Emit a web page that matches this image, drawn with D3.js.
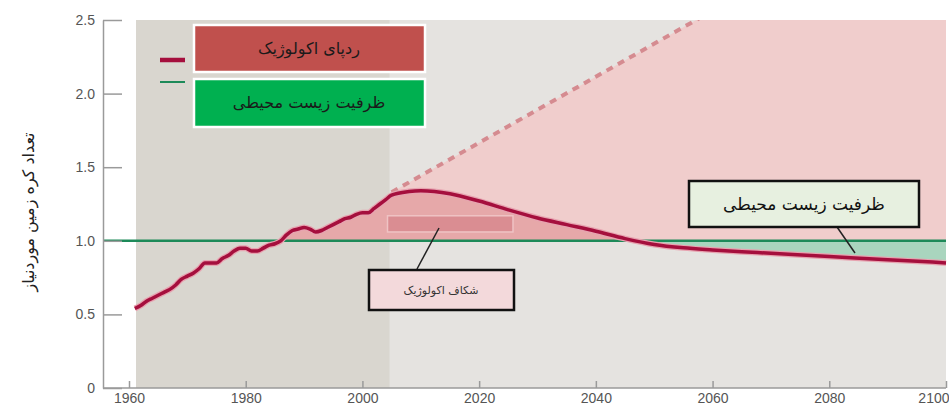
<!DOCTYPE html>
<html>
<head>
<meta charset="utf-8">
<script src="https://cdn.jsdelivr.net/npm/d3@7"></script>
<style>
body { margin: 0; background: #fff; }
svg { display: block; }
.fa { font-family: "DejaVu Sans", sans-serif; direction: rtl; }
.axis text { font-family: "Liberation Sans", Arial, sans-serif; font-size: 14px; fill: #555; }
.axis path, .axis line { stroke: #9a9a9a; stroke-width: 1.5; }
</style>
</head>
<body>
<script>
var width = 949, height = 408;

// ecological footprint, number of planets (historical, yearly)
var histYears = [1961,1962,1963,1964,1965,1966,1967,1968,1969,1970,1971,1972,1973,1974,1975,1976,1977,1978,1979,1980,
  1981,1982,1983,1984,1985,1986,1987,1988,1989,1990,1991,1992,1993,1994,1995,1996,1997,1998,1999,2000,2001,2002,2003,2004,2005];
var histValues = [0.54,0.56,0.59,0.61,0.63,0.65,0.67,0.70,0.74,0.76,0.78,0.81,0.85,0.85,0.85,0.88,0.90,0.93,0.95,0.95,
  0.93,0.93,0.95,0.97,0.98,1.00,1.04,1.07,1.08,1.09,1.08,1.06,1.07,1.09,1.11,1.13,1.15,1.16,1.18,1.19,1.19,1.22,1.25,1.28,1.31];
// projection to 2100
var projYears = [2008,2010,2015,2020,2025,2030,2035,2040,2045,2050,2055,2060,2065,2070,2080,2090,2100];
var projValues = [1.335,1.34,1.32,1.27,1.21,1.155,1.11,1.065,1.015,0.975,0.952,0.938,0.926,0.915,0.893,0.872,0.85];
// business as usual (dashed)
var bauYears = [2005, 2100];
var bauValues = [1.33, 3.46];
var biocapacity = 1.0;
var histStart = 1961.2, projStart = 2004.7;

var xTicks = [1960,1980,2000,2020,2040,2060,2080,2100];
var yTicks = [0,0.5,1.0,1.5,2.0,2.5];

var footprint = histYears.map(function(d,i){ return [d, histValues[i]]; })
  .concat(projYears.map(function(d,i){ return [d, projValues[i]]; }));
var bau = bauYears.map(function(d,i){ return [d, bauValues[i]]; });

var x = d3.scaleLinear().domain([1960,2100]).range([129,946]);
var y = d3.scaleLinear().domain([0,2.5]).range([388,20]);

var svg = d3.select("body").append("svg").attr("width",width).attr("height",height);
var defs = svg.append("defs");
defs.append("clipPath").attr("id","plot").append("rect")
  .attr("x",x(1960)).attr("y",y(2.5)).attr("width",x(2100)-x(1960)).attr("height",y(0)-y(2.5));
defs.append("clipPath").attr("id","above").append("rect")
  .attr("x",0).attr("y",y(2.5)).attr("width",width).attr("height",y(biocapacity)-y(2.5));
defs.append("clipPath").attr("id","below").append("rect")
  .attr("x",x(projStart)).attr("y",y(biocapacity)).attr("width",x(2100)-x(projStart)).attr("height",y(0)-y(biocapacity));

// backgrounds
svg.append("rect").attr("x",x(histStart)).attr("y",y(2.5))
  .attr("width",x(projStart)-x(histStart)).attr("height",y(0)-y(2.5)).attr("fill","#d9d6cf");
svg.append("rect").attr("x",x(projStart)).attr("y",y(2.5))
  .attr("width",x(2100)-x(projStart)).attr("height",y(0)-y(2.5)).attr("fill","#e5e3e0");

// overshoot wedge under business-as-usual
svg.append("path").datum(bau)
  .attr("clip-path","url(#plot)")
  .attr("fill","#f0cdcc")
  .attr("d", d3.area().x(function(d){ return x(d[0]); }).y0(y(biocapacity)).y1(function(d){ return y(d[1]); }));

var curve = d3.curveMonotoneX;
var gapArea = d3.area().curve(curve)
  .x(function(d){ return x(d[0]); }).y0(y(biocapacity)).y1(function(d){ return y(d[1]); });

svg.append("path").datum(footprint).attr("clip-path","url(#above)")
  .attr("fill","#e6a8a9").attr("d", gapArea);
svg.append("path").datum(footprint).attr("clip-path","url(#below)")
  .attr("fill","#a9d5be").attr("d", gapArea);

// marker inside ecological deficit
svg.append("rect").attr("x",x(2004.3)).attr("y",y(1.17))
  .attr("width",x(2025.8)-x(2004.3)).attr("height",y(1.06)-y(1.17))
  .attr("fill","#da8d92").attr("stroke","#efc3c4").attr("stroke-width",1.5);

// biocapacity line
svg.append("line").attr("x1",103).attr("x2",x(2100))
  .attr("y1",y(biocapacity)).attr("y2",y(biocapacity))
  .attr("stroke","#1d8a59").attr("stroke-width",2.5);

// dashed business-as-usual
svg.append("path").datum(bau).attr("clip-path","url(#plot)")
  .attr("fill","none").attr("stroke","#d58b90").attr("stroke-width",4).attr("stroke-dasharray","7,6")
  .attr("d", d3.line().x(function(d){ return x(d[0]); }).y(function(d){ return y(d[1]); }));

// footprint line
svg.append("path").datum(footprint)
  .attr("fill","none").attr("stroke","#e7a3b0").attr("stroke-width",6).attr("stroke-linejoin","round")
  .attr("d", d3.line().curve(curve).x(function(d){ return x(d[0]); }).y(function(d){ return y(d[1]); }));
svg.append("path").datum(footprint)
  .attr("fill","none").attr("stroke","#a50f3d").attr("stroke-width",3.5).attr("stroke-linejoin","round")
  .attr("d", d3.line().curve(curve).x(function(d){ return x(d[0]); }).y(function(d){ return y(d[1]); }));

// axes
var yAxis = svg.append("g").attr("class","axis").attr("transform","translate(103,0)")
  .call(d3.axisLeft(y).tickValues(yTicks).tickSize(-19).tickSizeOuter(0).tickPadding(8)
    .tickFormat(function(d){ return d === 0 ? "0" : d3.format(".1f")(d); }));
var xAxis = svg.append("g").attr("class","axis").attr("transform","translate(0,"+y(0)+")")
  .call(d3.axisBottom(x).tickValues(xTicks).tickSize(-7).tickSizeOuter(0).tickPadding(5)
    .tickFormat(d3.format("d")));
xAxis.select(".domain").attr("d","M103,0H"+x(2100));
xAxis.selectAll(".tick").filter(function(d){ return d === 2100; }).select("text")
  .attr("text-anchor","end").attr("x",3);

// y title
svg.append("text").attr("class","fa")
  .attr("transform","translate(34,212) rotate(-90)")
  .attr("text-anchor","middle").attr("font-size",16).attr("fill","#222")
  .text("تعداد کره زمین موردنیاز");

// legend
svg.append("line").attr("x1",160).attr("x2",185).attr("y1",60).attr("y2",60)
  .attr("stroke","#a50f3d").attr("stroke-width",4.5);
svg.append("line").attr("x1",160).attr("x2",185).attr("y1",82).attr("y2",82)
  .attr("stroke","#1d8a59").attr("stroke-width",2);
svg.append("rect").attr("x",194).attr("y",25).attr("width",231).attr("height",47)
  .attr("fill","#c0504d").attr("stroke","#fff").attr("stroke-width",2.5);
svg.append("rect").attr("x",194).attr("y",79).attr("width",231).attr("height",48)
  .attr("fill","#00b050").attr("stroke","#fff").attr("stroke-width",2.5);
svg.append("text").attr("class","fa").attr("x",309).attr("y",54).attr("text-anchor","middle")
  .attr("font-size",16).attr("fill","#1a1a1a").text("ردپای اکولوژیک");
svg.append("text").attr("class","fa").attr("x",309).attr("y",108).attr("text-anchor","middle")
  .attr("font-size",16).attr("fill","#1a1a1a").text("ظرفیت زیست محیطی");

// callout: biocapacity
svg.append("line").attr("x1",837).attr("y1",227).attr("x2",855).attr("y2",253)
  .attr("stroke","#222").attr("stroke-width",1.5);
svg.append("rect").attr("x",689).attr("y",181).attr("width",230).attr("height",46)
  .attr("fill","#e7f0e0").attr("stroke","#111").attr("stroke-width",2.5);
svg.append("text").attr("class","fa").attr("x",804).attr("y",210).attr("text-anchor","middle")
  .attr("font-size",17).attr("fill","#111").text("ظرفیت زیست محیطی");

// callout: ecological deficit
svg.append("line").attr("x1",417).attr("y1",269).attr("x2",439).attr("y2",228)
  .attr("stroke","#222").attr("stroke-width",1.5);
svg.append("rect").attr("x",369).attr("y",270).attr("width",145).attr("height",40)
  .attr("fill","#f3d9db").attr("stroke","#111").attr("stroke-width",2.5);
svg.append("text").attr("class","fa").attr("x",441).attr("y",294).attr("text-anchor","middle")
  .attr("font-size",11).attr("fill","#333").text("شکاف اکولوژیک");
</script>
</body>
</html>
